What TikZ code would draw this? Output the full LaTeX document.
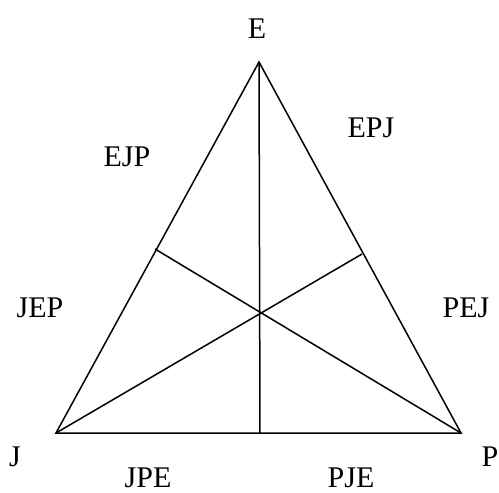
\documentclass[tikz,border=0pt]{standalone}
\usepackage{fontspec}
\setmainfont{Liberation Serif}
\usetikzlibrary{positioning}

\begin{document}
\begin{tikzpicture}[
  x=1pt, y=-1pt,
  edge/.style={draw, line width=1.5pt},
  lab/.style={inner sep=0pt, font=\fontsize{30}{35}\selectfont}
]
\useasboundingbox (0,0) rectangle (499,493);

% Vertices
\coordinate (E) at (259,62);
\coordinate (J) at (56,433);
\coordinate (P) at (461,433);

% Feet of the medians
\coordinate (mjp) at (260,433);
\coordinate (mej) at (155,249);
\coordinate (mep) at (362,254);

% Triangle
\draw[edge] (E) -- (J) -- (P) -- cycle;

% Medians
\draw[edge] (E) -- (mjp);
\draw[edge] (J) -- (mep);
\draw[edge] (P) -- (mej);

% Vertex labels
\node[lab] (lE) at (257,29) {E};
\node[lab] (lJ) at (15,457) {J};
\node[lab] (lP) at (490,457) {P};

% Region labels
\node[lab] (ejp) at (127,157) {EJP};
\node[lab] (epj) at (371,128) {EPJ};
\node[lab] (jep) at (40,308) {JEP};
\node[lab] (pej) at (466,308) {PEJ};
\node[lab] (jpe) at (148,478) {JPE};
\node[lab] (pje) at (351,478) {PJE};
\end{tikzpicture}
\end{document}
